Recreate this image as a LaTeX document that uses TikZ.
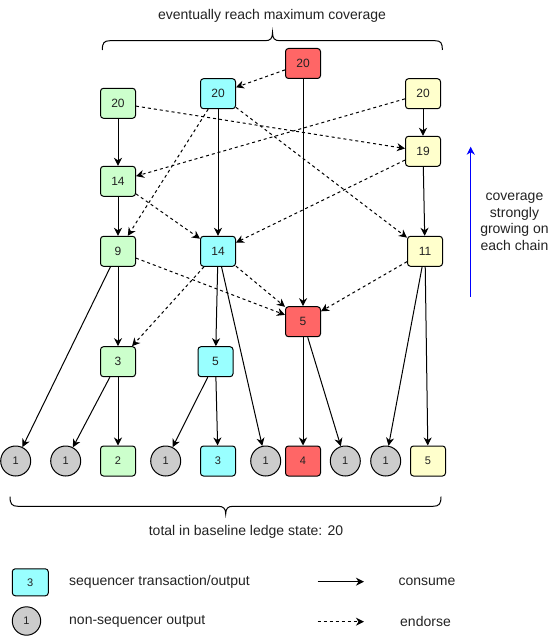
\documentclass[tikz,border=0pt]{standalone}
\usepackage{fontspec}
\setmainfont{Liberation Sans}
\usetikzlibrary{arrows.meta}
\definecolor{cgreen}{HTML}{CCFFCC}
\definecolor{ccyan}{HTML}{99FFFF}
\definecolor{cred}{HTML}{FF6666}
\definecolor{cyel}{HTML}{FFFFCC}
\definecolor{cgray}{HTML}{CCCCCC}
\definecolor{txt}{HTML}{222222}
\definecolor{cblue}{HTML}{0000FF}
\begin{document}
\begin{tikzpicture}[x=1bp,y=-1bp,
  box/.style={draw, rounded corners=3bp, minimum width=35bp, minimum height=30bp, inner sep=0pt, line width=1bp, text=txt, font=\fontsize{12bp}{14bp}\selectfont},
  sbox/.style={box, font=\fontsize{11bp}{13bp}\selectfont},
  circ/.style={draw, circle, fill=cgray, minimum size=30bp, inner sep=0pt, line width=1bp, text=txt, font=\fontsize{11bp}{13bp}\selectfont},
  consume/.style={-{Stealth[length=8bp,width=8bp,inset=2.5bp]}, line width=1bp},
  endorse/.style={consume, dash pattern=on 3bp off 3bp},
  lbl/.style={font=\fontsize{14bp}{16.7bp}\selectfont, inner sep=0pt, text=txt},
  brace/.style={line width=1bp}
]
\useasboundingbox (0,0) rectangle (556,637);

% chain nodes
\node[box, fill=cred]   (r20) at (303,63.5)  {20};
\node[box, fill=ccyan]  (c20) at (218,93.7)  {20};
\node[box, fill=cgreen] (g20) at (118,103.3) {20};
\node[box, fill=cyel]   (y20) at (423,93.7)  {20};
\node[box, fill=cyel]   (y19) at (423,151.3) {19};
\node[box, fill=cgreen] (g14) at (118,181.3) {14};
\node[box, fill=cgreen] (g9)  at (118,251.3) {9};
\node[box, fill=ccyan]  (c14) at (218,251.3) {14};
\node[box, fill=cyel]   (y11) at (425,251.3) {11};
\node[box, fill=cred]   (r5)  at (303,321.7) {5};
\node[box, fill=cgreen] (g3)  at (118,361.7) {3};
\node[box, fill=ccyan]  (c5)  at (215.5,361.7) {5};

% bottom row
\node[circ] (o1) at (15.7,461) {1};
\node[circ] (o2) at (65.7,461) {1};
\node[sbox, fill=cgreen] (g2) at (118,461) {2};
\node[circ] (o3) at (165.7,461) {1};
\node[sbox, fill=ccyan] (c3) at (218,461) {3};
\node[circ] (o4) at (265.7,461) {1};
\node[sbox, fill=cred] (r4) at (303,461) {4};
\node[circ] (o5) at (345.3,461) {1};
\node[circ] (o6) at (385.7,461) {1};
\node[sbox, fill=cyel] (y5) at (428,461) {5};

% consume edges
\draw[consume] (g20) -- (g14);
\draw[consume] (g14) -- (g9);
\draw[consume] (g9) -- (g3);
\draw[consume] (g3) -- (g2);
\draw[consume] (g3) -- (o2);
\draw[consume] (g9) -- (o1);
\draw[consume] (c20) -- (c14);
\draw[consume] (c14) -- (c5);
\draw[consume] (c5) -- (c3);
\draw[consume] (c5) -- (o3);
\draw[consume] (c14) -- (o4);
\draw[consume] (r20) -- (r5);
\draw[consume] (r5) -- (r4);
\draw[consume] (r5) -- (o5);
\draw[consume] (y20) -- (y19);
\draw[consume] (y19) -- (y11);
\draw[consume] (y11) -- (y5);
\draw[consume] (y11) -- (o6);

% endorse edges
\draw[endorse] (r20) -- (c20);
\draw[endorse] (g20) -- (y19);
\draw[endorse] (y20) -- (g14);
\draw[endorse] (c20) -- (g9);
\draw[endorse] (c20) -- (y11);
\draw[endorse] (g14) -- (c14);
\draw[endorse] (y19) -- (c14);
\draw[endorse] (g9) -- (r5);
\draw[endorse] (c14) -- (r5);
\draw[endorse] (y11) -- (r5);
\draw[endorse] (c14) -- (g3);

% braces
\draw[brace] (102.3,50) .. controls (102.3,43) and (104,40.7) .. (110,40.7)
  -- (265,40.7) .. controls (270.5,40.7) and (272.5,38.5) .. (272.5,32.3)
  .. controls (272.5,38.5) and (274.5,40.7) .. (280,40.7)
  -- (435,40.7) .. controls (441,40.7) and (442.3,43) .. (442.3,50);
\node[lbl] (toplbl) at (272,15.7) {eventually reach maximum coverage};

\draw[brace] (10,496.7) .. controls (10,504) and (12,506.3) .. (18,506.3)
  -- (218,506.3) .. controls (223.5,506.3) and (225.7,508.5) .. (225.7,514)
  .. controls (225.7,508.5) and (227.9,506.3) .. (233,506.3)
  -- (433,506.3) .. controls (439,506.3) and (441,504) .. (441,496.7);
\node[lbl] (botlbl) at (246,531.7) {total in baseline ledge state: 20};

% growth arrow
\coordinate (gb) at (470.7,296.7);
\coordinate (gt) at (470.7,146.7);
\draw[consume, draw=cblue, fill=cblue] (gb) -- (gt);
\node[lbl, align=center] (growlbl) at (514.5,221.7) {coverage\\strongly\\growing on\\each chain};

% legend
\node[sbox, fill=ccyan, minimum width=36bp, minimum height=27bp] (lbox) at (30.3,582.3) {3};
\node[circ, minimum size=28.4bp] (lcirc) at (26.5,621) {1};
\node[lbl, anchor=west] (ltxt1) at (69,581.7) {sequencer transaction/output};
\node[lbl, anchor=west] (ltxt2) at (69,621.7) {non-sequencer output};
\coordinate (ca) at (317.7,581.7);
\coordinate (cb) at (364,581.7);
\coordinate (ea) at (317.7,621.7);
\coordinate (eb) at (364,621.7);
\draw[consume] (ca) -- (cb);
\draw[endorse] (ea) -- (eb);
\node[lbl, anchor=west] (ltxt3) at (398.3,581.7) {consume};
\node[lbl, anchor=west] (ltxt4) at (400,621.7) {endorse};
\end{tikzpicture}
\end{document}
